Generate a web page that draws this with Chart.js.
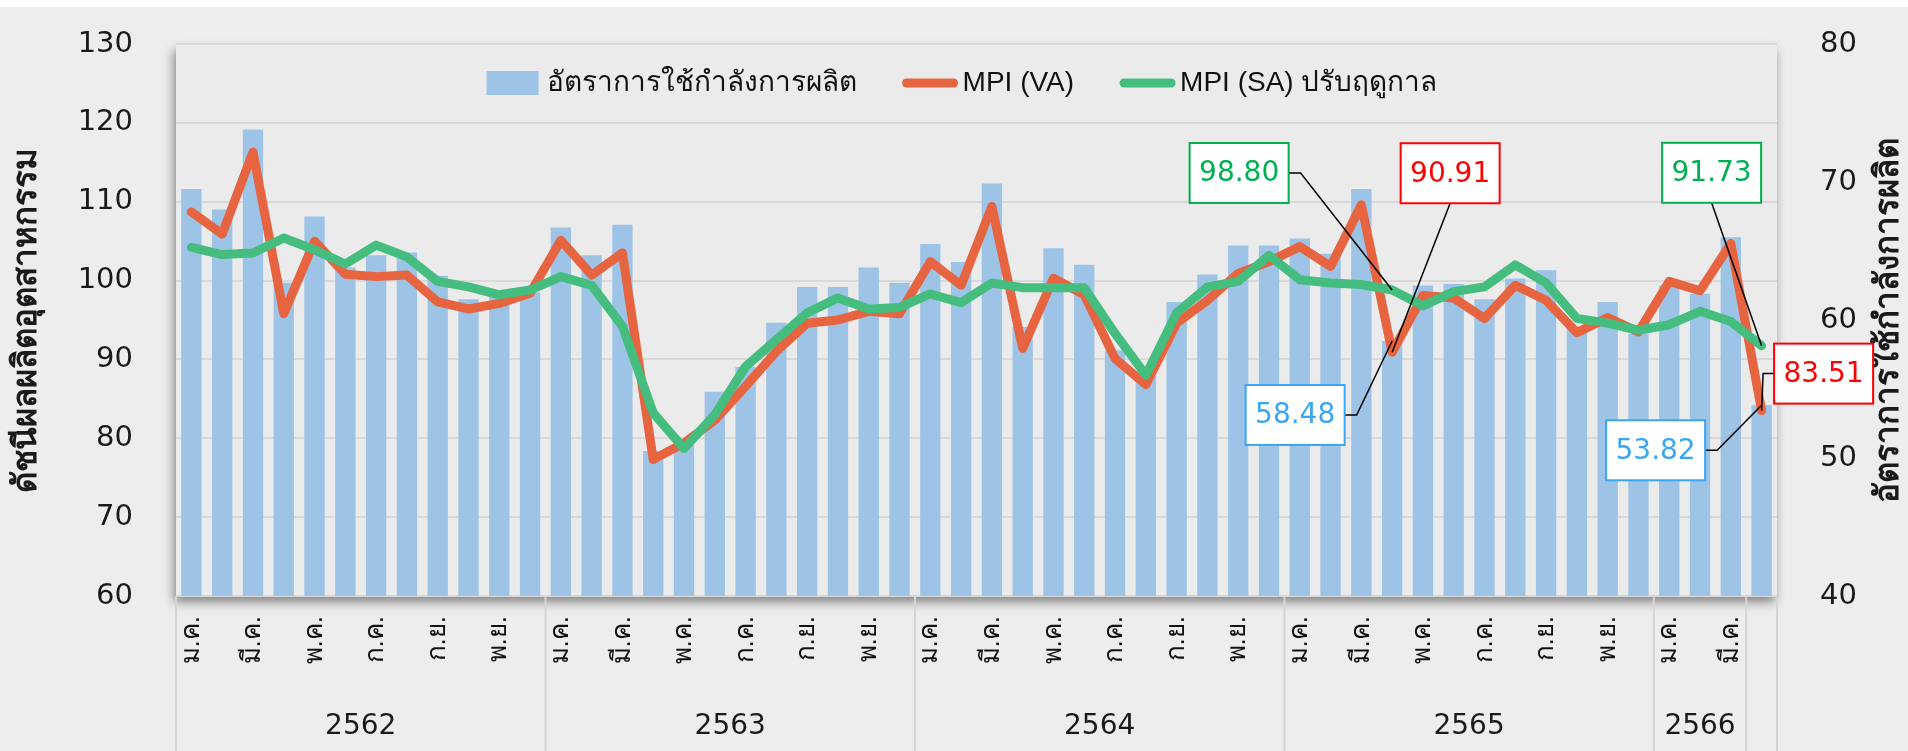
<!DOCTYPE html>
<html lang="th">
<head>
<meta charset="UTF-8">
<title>ดัชนีผลผลิตอุตสาหกรรม</title>
<script src="https://cdn.jsdelivr.net/npm/chart.js"></script>
<style>
    html, body { margin: 0; padding: 0; background: #ffffff; overflow: hidden; }
    #wrap { width: 1908px; height: 751px; position: relative; }
</style>
</head>
<body>
<div id="wrap"><canvas id="mpiChart"></canvas></div>

<script>
// เดือน / ปี
const monthNames = ['ม.ค.', 'ก.พ.', 'มี.ค.', 'เม.ย.', 'พ.ค.', 'มิ.ย.', 'ก.ค.', 'ส.ค.', 'ก.ย.', 'ต.ค.', 'พ.ย.', 'ธ.ค.'];
const yearLabels = ['2562', '2563', '2564', '2565', '2566', ''];
const yearSizes = [12, 12, 12, 12, 3, 1];

// อัตราการใช้กำลังการผลิต (แกนขวา)
const capacityRate = [
    69.5, 68.0, 73.8, 62.7, 67.5, 63.8, 64.7, 64.9, 63.2, 61.5, 61.8, 62.0,
    66.7, 64.7, 66.9, 50.5, 51.0, 54.8, 56.6, 59.8, 62.4, 62.4, 63.8, 62.7,
    65.5, 64.2, 69.9, 59.5, 65.2, 64.0, 57.8, 56.0, 61.3, 63.3, 65.4, 65.4,
    65.9, 64.8, 69.5, 58.48, 62.5, 62.6, 61.5, 63.0, 63.6, 59.5, 61.3, 59.0,
    62.5, 61.9, 66.0, 53.82
];

// MPI (VA)
const mpiVA = [
    108.7, 105.9, 116.3, 95.8, 105.0, 100.8, 100.5, 100.7, 97.3, 96.4, 97.1, 98.4,
    105.1, 100.7, 103.5, 77.3, 79.4, 82.3, 86.6, 91.0, 94.6, 95.0, 96.1, 95.8,
    102.4, 99.4, 109.4, 91.4, 100.3, 98.2, 90.1, 86.8, 94.6, 97.5, 100.9, 102.4,
    104.3, 101.8, 109.6, 90.91, 98.1, 97.8, 95.2, 99.4, 97.5, 93.4, 95.3, 93.5,
    99.9, 98.7, 104.7, 83.51
];

// MPI (SA) ปรับฤดูกาล
const mpiSA = [
    104.2, 103.3, 103.5, 105.4, 103.9, 102.1, 104.5, 103.0, 99.9, 99.2, 98.2, 98.8,
    100.5, 99.4, 94.2, 83.2, 78.7, 83.0, 89.1, 92.5, 95.9, 97.8, 96.4, 96.6,
    98.3, 97.2, 99.7, 99.1, 99.1, 99.1, 93.3, 88.0, 95.9, 99.2, 99.9, 103.2,
    100.1, 99.7, 99.5, 98.80, 96.8, 98.6, 99.2, 102.0, 99.7, 95.2, 94.6, 93.7,
    94.4, 96.1, 94.8, 91.73
];

// กล่องข้อความชี้ค่า (ตำแหน่งเทียบกับจุดข้อมูล)
const callouts = [
    { series: 'sa',  index: 39, color: '#00B050', dx: -153, dy: -117, leader: 'right' },
    { series: 'va',  index: 39, color: '#FF0000', dx: 58,   dy: -179, leader: 'bottom' },
    { series: 'cap', index: 39, color: '#3AA6F2', dx: -97,  dy: 74,   leader: 'right' },
    { series: 'sa',  index: 51, color: '#00B050', dx: -50,  dy: -173, leader: 'bottom' },
    { series: 'va',  index: 51, color: '#FF0000', dx: 62,   dy: -37,  leader: 'left' },
    { series: 'cap', index: 51, color: '#3AA6F2', dx: -106, dy: 45,   leader: 'right' }
];

const categories = [];
yearSizes.forEach(n => {
    for (let i = 0; i < n; i++) categories.push(monthNames[categories.length % 12]);
});

const NUM_FONT = "'DejaVu Sans', sans-serif";
const TXT_FONT = "'Liberation Sans', 'Noto Sans', sans-serif";
const BAR_COLOR = '#9DC3E6';
const VA_COLOR = '#E66440';
const SA_COLOR = '#45BD7E';

const chartDecor = {
    id: 'chartDecor',
    beforeDraw(chart) {
        const { ctx, chartArea: a, width, height } = chart;
        ctx.save();
        ctx.fillStyle = '#ffffff';
        ctx.fillRect(0, 0, width, height);
        ctx.fillStyle = '#EDEDED';
        ctx.fillRect(0, 7, width, height - 7);
        ctx.shadowColor = 'rgba(0,0,0,0.45)';
        ctx.shadowBlur = 10;
        ctx.shadowOffsetX = -2;
        ctx.shadowOffsetY = 6;
        ctx.fillStyle = '#EBEBEB';
        ctx.fillRect(a.left, a.top, a.right - a.left, a.bottom - a.top);
        ctx.restore();
    },
    afterDraw(chart) {
        const { ctx, chartArea: a, width, height } = chart;
        const xs = chart.scales.x;
        const n = categories.length;

        // เส้นแบ่งปีและป้ายปี
        const edge = c => c === 0 ? a.left : c === n ? a.right
            : (xs.getPixelForValue(c - 1) + xs.getPixelForValue(c)) / 2;
        ctx.save();
        ctx.strokeStyle = '#D4D4D4';
        ctx.lineWidth = 2;
        ctx.fillStyle = '#1A1A1A';
        ctx.font = '28px ' + NUM_FONT;
        ctx.textAlign = 'center';
        ctx.textBaseline = 'middle';
        let c = 0;
        yearSizes.forEach((size, i) => {
            const x0 = edge(c), x1 = edge(c + size);
            ctx.beginPath();
            ctx.moveTo(x0, a.bottom);
            ctx.lineTo(x0, height);
            ctx.stroke();
            if (yearLabels[i]) ctx.fillText(yearLabels[i], (x0 + x1) / 2, 727);
            c += size;
        });
        ctx.beginPath();
        ctx.moveTo(a.right, a.bottom);
        ctx.lineTo(a.right, height);
        ctx.stroke();

        // ชื่อแกน
        ctx.font = 'bold 33px ' + TXT_FONT;
        const midY = (a.top + a.bottom) / 2;
        [[27, 'ดัชนีผลผลิตอุตสาหกรรม'], [1889, 'อัตราการใช้กำลังการผลิต']].forEach(([x, t]) => {
            ctx.save();
            ctx.translate(x, midY);
            ctx.rotate(-Math.PI / 2);
            ctx.fillText(t, 0, 0);
            ctx.restore();
        });

        // คำอธิบายสัญลักษณ์
        const items = [
            { type: 'box', color: BAR_COLOR, text: 'อัตราการใช้กำลังการผลิต' },
            { type: 'line', color: VA_COLOR, text: 'MPI (VA)' },
            { type: 'line', color: SA_COLOR, text: 'MPI (SA) ปรับฤดูกาล' }
        ];
        ctx.font = '28px ' + TXT_FONT;
        ctx.textAlign = 'left';
        const markW = 55, gapIn = 5, gapOut = 46;
        let total = 0;
        items.forEach((it, i) => {
            it.w = ctx.measureText(it.text).width;
            total += markW + gapIn + it.w + (i < items.length - 1 ? gapOut : 0);
        });
        let lx = 962 - total / 2;
        const ly = 83;
        items.forEach(it => {
            if (it.type === 'box') {
                ctx.fillStyle = it.color;
                ctx.fillRect(lx, ly - 12, markW - 3, 24);
            } else {
                ctx.strokeStyle = it.color;
                ctx.lineWidth = 9;
                ctx.lineCap = 'round';
                ctx.beginPath();
                ctx.moveTo(lx + 4, ly);
                ctx.lineTo(lx + markW - 4, ly);
                ctx.stroke();
            }
            ctx.fillStyle = '#111111';
            ctx.fillText(it.text, lx + markW + gapIn, ly);
            lx += markW + gapIn + it.w + gapOut;
        });

        // กล่องค่า
        const seriesInfo = {
            va: { data: mpiVA, scale: chart.scales.y },
            sa: { data: mpiSA, scale: chart.scales.y },
            cap: { data: capacityRate, scale: chart.scales.y1 }
        };
        const bw = 99, bh = 60;
        ctx.font = '28px ' + NUM_FONT;
        ctx.textAlign = 'center';
        callouts.forEach(co => {
            const s = seriesInfo[co.series];
            const v = s.data[co.index];
            const px = xs.getPixelForValue(co.index);
            const py = s.scale.getPixelForValue(v);
            const bx = px + co.dx, by = py + co.dy;
            ctx.strokeStyle = '#000000';
            ctx.lineWidth = 1.5;
            ctx.lineCap = 'butt';
            ctx.beginPath();
            if (co.leader === 'right') {
                ctx.moveTo(bx + bw / 2, by);
                ctx.lineTo(bx + bw / 2 + 12, by);
            } else if (co.leader === 'left') {
                ctx.moveTo(bx - bw / 2, by);
                ctx.lineTo(bx - bw / 2 - 11, by);
            } else {
                ctx.moveTo(bx, by + bh / 2);
            }
            ctx.lineTo(px, py);
            ctx.stroke();
            ctx.fillStyle = '#ffffff';
            ctx.fillRect(bx - bw / 2, by - bh / 2, bw, bh);
            ctx.strokeStyle = co.color;
            ctx.lineWidth = 2;
            ctx.strokeRect(bx - bw / 2, by - bh / 2, bw, bh);
            ctx.fillStyle = co.color;
            ctx.fillText(v.toFixed(2), bx, by + 1);
        });
        ctx.restore();
    }
};

// ล็อกขนาดแกนตั้งและไม่ให้ padding ของป้ายดันพื้นที่กราฟลง
const fitVertical = w => s => {
    s.width = w;
    s.paddingTop = 0;
    s.paddingBottom = 0;
};

const ctx = document.getElementById('mpiChart').getContext('2d');
new Chart(ctx, {
    type: 'bar',
    data: {
        labels: categories,
        datasets: [
            {
                type: 'line',
                label: 'MPI (SA) ปรับฤดูกาล',
                data: mpiSA,
                yAxisID: 'y',
                borderColor: SA_COLOR,
                borderWidth: 9,
                borderCapStyle: 'round',
                borderJoinStyle: 'round',
                pointRadius: 0,
                tension: 0,
                order: 0
            },
            {
                type: 'line',
                label: 'MPI (VA)',
                data: mpiVA,
                yAxisID: 'y',
                borderColor: VA_COLOR,
                borderWidth: 9,
                borderCapStyle: 'round',
                borderJoinStyle: 'round',
                pointRadius: 0,
                tension: 0,
                order: 1
            },
            {
                label: 'อัตราการใช้กำลังการผลิต',
                data: capacityRate,
                yAxisID: 'y1',
                backgroundColor: BAR_COLOR,
                barPercentage: 0.66,
                categoryPercentage: 1,
                order: 2
            }
        ]
    },
    options: {
        responsive: true,
        maintainAspectRatio: false,
        animation: false,
        layout: { padding: { top: 44, left: 0, right: 0, bottom: 0 } },
        plugins: {
            legend: { display: false },
            tooltip: { enabled: false }
        },
        scales: {
            x: {
                grid: { display: false, drawTicks: false },
                border: { display: false },
                ticks: {
                    autoSkip: false,
                    maxRotation: 90,
                    minRotation: 90,
                    padding: 20,
                    color: '#111111',
                    font: { family: TXT_FONT, size: 26 },
                    callback: (value, index) => index % 2 === 0 ? categories[index] : ''
                },
                afterFit: s => { s.height = 155; }
            },
            y: {
                position: 'left',
                min: 60,
                max: 130,
                ticks: {
                    stepSize: 10,
                    padding: 43,
                    color: '#1A1A1A',
                    font: { family: NUM_FONT, size: 29 }
                },
                grid: { color: '#D9D9D9', lineWidth: 2, drawTicks: false },
                border: { display: false },
                afterFit: fitVertical(176)
            },
            y1: {
                position: 'right',
                min: 40,
                max: 80,
                ticks: {
                    stepSize: 10,
                    padding: 43,
                    color: '#1A1A1A',
                    font: { family: NUM_FONT, size: 29 }
                },
                grid: { drawOnChartArea: false, drawTicks: false },
                border: { display: false },
                afterFit: fitVertical(131)
            }
        }
    },
    plugins: [chartDecor]
});
</script>
</body>
</html>
